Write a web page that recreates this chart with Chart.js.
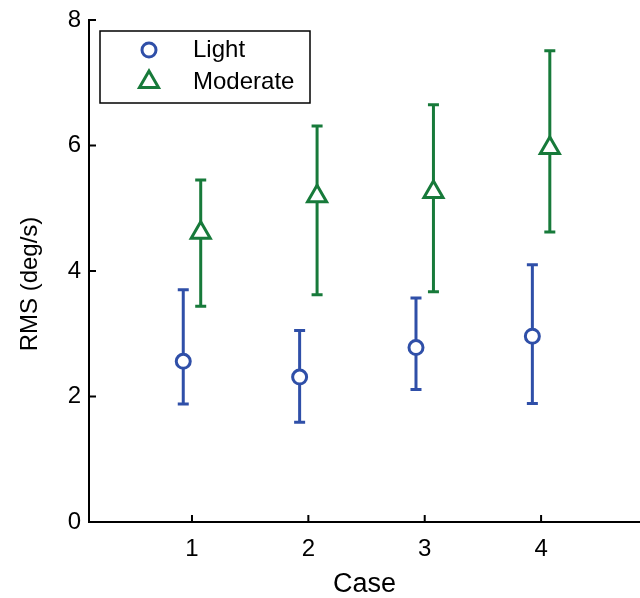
<!DOCTYPE html>
<html>
<head>
<meta charset="utf-8">
<script src="https://cdn.jsdelivr.net/npm/chart.js@4"></script>
<style>
  body { margin: 0; background: #fff; }
  #wrap { width: 640px; height: 598px; }
</style>
</head>
<body>
<div id="wrap"><canvas id="c"></canvas></div>
<script>
// values
var cases = [1, 2, 3, 4];
var yTicks = [0, 2, 4, 6, 8];
var lightMean = [2.56, 2.31, 2.78, 2.96];
var lightLow = [1.88, 1.59, 2.11, 1.89];
var lightHigh = [3.70, 3.05, 3.57, 4.10];
var moderateMean = [4.61, 5.19, 5.26, 5.96];
var moderateLow = [3.44, 3.62, 3.67, 4.62];
var moderateHigh = [5.45, 6.31, 6.65, 7.51];

var blue = '#2f4fa8';
var green = '#177a3a';
var font = 'Liberation Sans, Arial, sans-serif';
var shift = 0.075; // groups sit a little left/right of each case

function pts(mean, sign) {
  return cases.map(function (c, i) { return { x: c + sign * shift, y: mean[i] }; });
}

var extras = {
  id: 'extras',
  beforeDatasetsDraw: function (chart) {
    var ctx = chart.ctx, xs = chart.scales.x, ys = chart.scales.y;
    chart.data.datasets.forEach(function (ds) {
      ctx.save();
      ctx.strokeStyle = ds.borderColor;
      ctx.lineWidth = 3;
      ds.data.forEach(function (p, i) {
        var x = xs.getPixelForValue(p.x);
        var y1 = ys.getPixelForValue(ds.low[i]);
        var y2 = ys.getPixelForValue(ds.high[i]);
        ctx.beginPath();
        ctx.moveTo(x, y1); ctx.lineTo(x, y2);
        ctx.moveTo(x - 5.5, y1); ctx.lineTo(x + 5.5, y1);
        ctx.moveTo(x - 5.5, y2); ctx.lineTo(x + 5.5, y2);
        ctx.stroke();
      });
      ctx.restore();
    });
  },
  afterDraw: function (chart) {
    var ctx = chart.ctx, xs = chart.scales.x, ys = chart.scales.y;
    var area = chart.chartArea;
    ctx.save();
    // inward tick marks
    ctx.strokeStyle = '#000';
    ctx.lineWidth = 2;
    ctx.beginPath();
    ys.ticks.forEach(function (t) {
      var y = ys.getPixelForValue(t.value);
      ctx.moveTo(area.left, y); ctx.lineTo(area.left + 7, y);
    });
    xs.ticks.forEach(function (t) {
      var x = xs.getPixelForValue(t.value);
      ctx.moveTo(x, area.bottom); ctx.lineTo(x, area.bottom - 7);
    });
    ctx.stroke();

    // y title
    ctx.fillStyle = '#000';
    ctx.font = '24px ' + font;
    ctx.textAlign = 'center';
    ctx.textBaseline = 'middle';
    ctx.save();
    ctx.translate(30, 284);
    ctx.rotate(-Math.PI / 2);
    ctx.fillText('RMS (deg/s)', 0, 0);
    ctx.restore();

    // legend box
    ctx.lineWidth = 1.5;
    ctx.strokeStyle = '#000';
    ctx.fillStyle = '#fff';
    ctx.fillRect(100, 31, 210, 72);
    ctx.strokeRect(100, 31, 210, 72);
    chart.data.datasets.forEach(function (ds, i) {
      var y = 50 + i * 32;
      ctx.strokeStyle = ds.borderColor;
      ctx.fillStyle = '#fff';
      ctx.lineWidth = 3;
      Chart.helpers.drawPoint(ctx, {
        pointStyle: ds.pointStyle,
        radius: ds.pointRadius,
        borderWidth: 3,
        rotation: 0
      }, 149, y);
      ctx.fillStyle = '#000';
      ctx.textAlign = 'left';
      ctx.fillText(ds.label, 193, y);
    });
    ctx.restore();
  }
};

new Chart(document.getElementById('c'), {
  type: 'scatter',
  data: {
    datasets: [
      {
        label: 'Light',
        data: pts(lightMean, -1),
        low: lightLow,
        high: lightHigh,
        borderColor: blue,
        backgroundColor: '#fff',
        pointStyle: 'circle',
        pointRadius: 7,
        pointBorderWidth: 3
      },
      {
        label: 'Moderate',
        data: pts(moderateMean, 1),
        low: moderateLow,
        high: moderateHigh,
        borderColor: green,
        backgroundColor: '#fff',
        pointStyle: 'triangle',
        pointRadius: 11,
        pointBorderWidth: 3
      }
    ]
  },
  options: {
    responsive: true,
    maintainAspectRatio: false,
    animation: false,
    devicePixelRatio: 1,
    layout: { autoPadding: false, padding: { top: 20, left: 0, right: 0, bottom: 0 } },
    plugins: { legend: { display: false }, tooltip: { enabled: false } },
    scales: {
      x: {
        type: 'linear',
        min: 0.115,
        max: 4.85,
        afterBuildTicks: function (s) { s.ticks = cases.map(function (v) { return { value: v }; }); },
        afterFit: function (s) { s.height = 76; s.paddingLeft = 0; s.paddingRight = 0; },
        grid: { display: false, drawTicks: false },
        border: { display: true, color: '#000', width: 2 },
        ticks: { color: '#000', font: { family: font, size: 24 }, padding: 13, maxRotation: 0 },
        title: { display: true, text: 'Case', color: '#000', font: { family: font, size: 27 }, padding: { top: 0, bottom: -3 } }
      },
      y: {
        min: 0,
        max: 8,
        afterBuildTicks: function (s) { s.ticks = yTicks.map(function (v) { return { value: v }; }); },
        afterFit: function (s) { s.width = 89; s.paddingTop = 0; s.paddingBottom = 0; },
        grid: { display: false, drawTicks: false },
        border: { display: true, color: '#000', width: 2 },
        ticks: { color: '#000', font: { family: font, size: 24 }, padding: 8 }
      }
    }
  },
  plugins: [extras]
});
</script>
</body>
</html>
